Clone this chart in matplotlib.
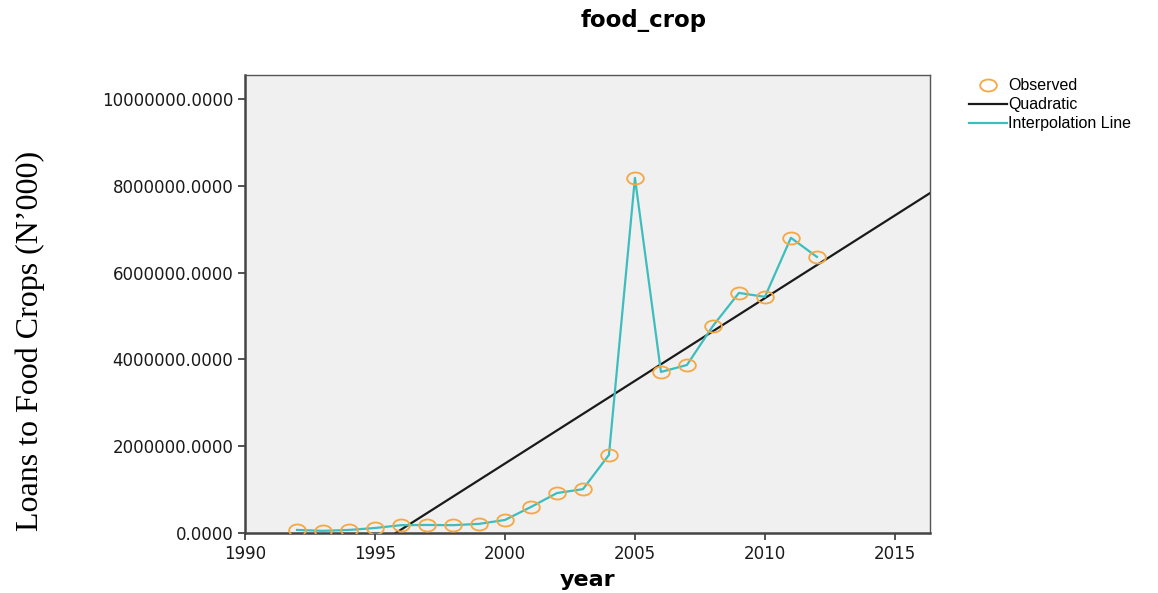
import numpy as np
import matplotlib.pyplot as plt
from matplotlib.path import Path

# observed loans to food crops (N'000)
years = [1992, 1993, 1994, 1995, 1996, 1997, 1998, 1999, 2000, 2001, 2002,
         2003, 2004, 2005, 2006, 2007, 2008, 2009, 2010, 2011, 2012]
loans = [70000, 50000, 70000, 115000, 180000, 185000, 180000, 210000, 300000,
         600000, 920000, 1010000, 1800000, 8180000, 3710000, 3870000, 4770000,
         5530000, 5440000, 6800000, 6360000]

# fitted "quadratic" curve coefficients in (year - 1990)
quad_coef = [0.0, 381000.0, -2209800.0]

x_ticks = [1990, 1995, 2000, 2005, 2010, 2015]
y_ticks = [0, 2000000, 4000000, 6000000, 8000000, 10000000]

# the original markers are stretched horizontally
circ = Path.unit_circle()
ellipse = Path(circ.vertices * np.array([1.0, 0.72]), circ.codes)

fig = plt.figure(figsize=(11.58, 5.93), dpi=100)
ax = fig.add_axes([0.2116, 0.1012, 0.5915, 0.7723])
ax.set_facecolor("#f0f0f0")

xfit = np.linspace(1990, 2016.4, 200)
ax.plot(xfit, np.polyval(quad_coef, xfit - 1990), color="#1a1a1a", lw=1.6,
        label="Quadratic", zorder=2)
ax.plot(years, loans, color="#3dbdbd", lw=1.6, label="Interpolation Line", zorder=3)
ax.plot(years, loans, ls="none", marker=ellipse, ms=12, mfc="none", mec="#f5a742",
        mew=1.3, label="Observed", zorder=4)

ax.set_xlim(1990, 2016.35)
ax.set_ylim(0, 10550000)
ax.set_xticks(x_ticks)
ax.set_yticks(y_ticks)
ax.set_yticklabels([f"{v:.4f}" for v in y_ticks])
ax.tick_params(direction="out", length=5, width=1.2, labelsize=12, colors="#333333")
ax.tick_params(labelcolor="#1a1a1a")

for side in ["left", "bottom"]:
    ax.spines[side].set_linewidth(1.8)
    ax.spines[side].set_color("#444444")
for side in ["top", "right"]:
    ax.spines[side].set_linewidth(1.0)
    ax.spines[side].set_color("#555555")

ax.set_xlabel("year", fontsize=16, fontweight="bold", labelpad=5)
ax.set_ylabel("Loans to Food Crops (N\u2019000)", fontsize=23,
              family="Liberation Serif")
ax.yaxis.set_label_coords(-0.292, 0.42)
fig.text(0.556, 0.965, "food_crop", ha="center", va="center",
         fontsize=16.5, fontweight="bold")

handles, labels = ax.get_legend_handles_labels()
order = [2, 0, 1]
leg = ax.legend([handles[i] for i in order], [labels[i] for i in order],
                loc="upper left", bbox_to_anchor=(1.045, 1.01), frameon=False,
                handlelength=2.4, handletextpad=0.05,
                labelspacing=0.25, borderaxespad=0.1,
                prop={"family": "Liberation Sans", "size": 11.5})

fig.savefig("out.png", dpi=100)
